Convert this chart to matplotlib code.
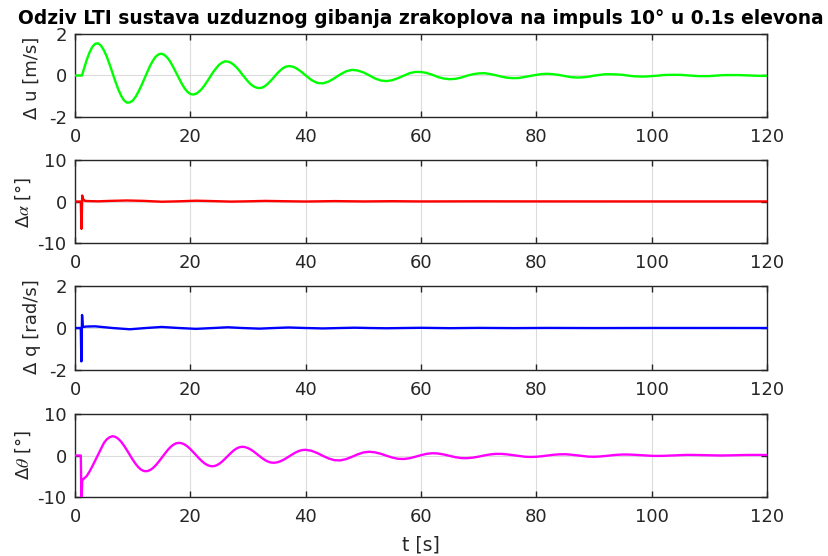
import numpy as np
import matplotlib
matplotlib.use("Agg")
import matplotlib.pyplot as plt

plt.rcParams["font.family"] = ["DejaVu Sans"]
plt.rcParams["mathtext.fontset"] = "stix"
plt.rcParams["axes.unicode_minus"] = False

# ---- response data (time in s) ----
# sample times: 0.5 s steps up to 40 s, 1 s steps afterwards
t_u = np.concatenate(([0.0, 1.0, 1.2], np.arange(1.5, 40.01, 0.5), np.arange(41, 121)))
# forward speed perturbation [m/s]
du = [0.0, 0.0, 0.0,
      0.28, 0.73, 1.10, 1.38, 1.53, 1.55, 1.44, 1.22, 0.91, 0.53,          # 1.5-6
      0.12, -0.29, -0.67, -0.98, -1.20, -1.31, -1.30, -1.21, -1.03, -0.78,  # 6.5-11
      -0.49, -0.17, 0.16, 0.46, 0.71, 0.91, 1.02, 1.05, 0.99, 0.86,         # 11.5-16
      0.67, 0.42, 0.15, -0.13, -0.39, -0.62, -0.79, -0.89, -0.92, -0.88,    # 16.5-21
      -0.78, -0.64, -0.46, -0.25, -0.03, 0.18, 0.36, 0.52, 0.62, 0.68,      # 21.5-26
      0.67, 0.62, 0.52, 0.39, 0.23, 0.05, -0.12, -0.29, -0.43, -0.53,       # 26.5-31
      -0.59, -0.61, -0.58, -0.50, -0.38, -0.24, -0.08, 0.08, 0.22, 0.34,    # 31.5-36
      0.42, 0.45, 0.44, 0.40, 0.32, 0.23, 0.12, 0.00,                       # 36.5-40
      -0.22, -0.36, -0.38, -0.29, -0.13, 0.05, 0.20, 0.27, 0.24,            # 41-49
      0.15, 0.01, -0.14, -0.24, -0.27, -0.23, -0.13, -0.01, 0.11, 0.17,     # 50-59
      0.17, 0.12, 0.03, -0.08, -0.15, -0.18, -0.16, -0.10, -0.01, 0.06,     # 60-69
      0.10, 0.11, 0.07, 0.01, -0.06, -0.11, -0.13, -0.12, -0.07, -0.02,     # 70-79
      0.03, 0.07, 0.08, 0.06, 0.02, -0.03, -0.08, -0.10, -0.09, -0.06,      # 80-89
      -0.01, 0.03, 0.06, 0.06, 0.05, 0.03, -0.01, -0.04, -0.05, -0.05,      # 90-99
      -0.03, -0.01, 0.02, 0.03, 0.03, 0.03, 0.01, -0.01, -0.03, -0.03,      # 100-109
      -0.03, -0.01, 0.01, 0.02, 0.02, 0.02, 0.01, 0.00, -0.01, -0.02,       # 110-119
      -0.02]                                                               # 120

# angle of attack perturbation [deg]
t_alpha = [0.0, 1.0, 1.12, 1.25, 1.4, 1.7, 2.5, 4, 6, 9, 12, 15, 18, 21, 24,
           27, 30, 33, 36, 40, 45, 50, 55, 60, 70, 80, 100, 120]
dalpha = [0.0, 0.0, -6.6, 1.45, 0.6, 0.15, 0.1, 0.05, 0.15, 0.25, 0.15, -0.05,
          0.05, 0.2, 0.1, -0.02, 0.05, 0.15, 0.08, 0.0, 0.1, 0.02, 0.08, 0.02,
          0.05, 0.03, 0.02, 0.02]

# pitch rate perturbation [rad/s]
t_q = [0.0, 1.0, 1.1, 1.22, 1.35, 2, 3.5, 6.5, 9.5, 12.3, 15, 18, 21, 24, 26.5,
       29, 32, 34.5, 37, 40, 43, 46, 48.5, 51, 54, 57, 60, 65, 70, 76, 82, 90,
       100, 120]
dq = [0.0, 0.0, -1.59, 0.62, 0.05, 0.07, 0.08, 0.0, -0.06, 0.0, 0.05, 0.0,
      -0.04, 0.0, 0.035, 0.0, -0.03, 0.0, 0.025, 0.0, -0.02, 0.0, 0.015, 0.0,
      -0.012, 0.0, 0.01, -0.008, 0.006, -0.005, 0.004, -0.003, 0.002, 0.0]

# pitch angle perturbation [deg]
t_theta = np.concatenate(([0.0, 1.0, 1.12, 1.25], np.arange(1.5, 40.01, 0.5), np.arange(41, 121)))
dtheta = [0.0, 0.0, -11.0, -6.0,
          -5.6, -5.0, -3.9, -2.6, -1.2, 0.2, 1.6, 3.0, 3.9, 4.4,            # 1.5-6
          4.65, 4.49, 4.03, 3.31, 2.37, 1.28, 0.13, -0.99, -2.01, -2.85,    # 6.5-11
          -3.45, -3.76, -3.77, -3.52, -3.03, -2.35, -1.52, -0.61, 0.32, 1.20,  # 11.5-16
          1.96, 2.55, 2.92, 3.05, 2.95, 2.65, 2.17, 1.55, 0.83, 0.08,       # 16.5-21
          -0.68, -1.35, -1.93, -2.33, -2.56, -2.59, -2.39, -2.01, -1.47, -0.81,  # 21.5-26
          -0.11, 0.58, 1.20, 1.68, 1.99, 2.10, 2.02, 1.78, 1.41, 0.94,      # 26.5-31
          0.40, -0.16, -0.69, -1.15, -1.49, -1.70, -1.75, -1.66, -1.45, -1.14,  # 31.5-36
          -0.76, -0.32, 0.12, 0.54, 0.90, 1.17, 1.33, 1.37,                 # 36.5-40
          1.14, 0.60, -0.09, -0.73, -1.13, -1.18, -0.87, -0.33, 0.27,       # 41-49
          0.73, 0.90, 0.77, 0.42, -0.05, -0.49, -0.79, -0.84, -0.66, -0.31,  # 50-59
          0.09, 0.41, 0.55, 0.47, 0.23, -0.10, -0.42, -0.62, -0.64, -0.51,   # 60-69
          -0.27, 0.02, 0.26, 0.39, 0.38, 0.26, 0.07, -0.14, -0.29, -0.35,    # 70-79
          -0.30, -0.17, 0.01, 0.18, 0.28, 0.30, 0.20, 0.04, -0.14, -0.27,    # 80-89
          -0.30, -0.24, -0.11, 0.04, 0.17, 0.24, 0.23, 0.17, 0.08, -0.02,    # 90-99
          -0.08, -0.10, -0.08, -0.02, 0.05, 0.11, 0.14, 0.14, 0.11, 0.07,    # 100-109
          0.03, 0.01, 0.00, 0.02, 0.05, 0.09, 0.12, 0.14, 0.14, 0.13,        # 110-119
          0.12]                                                             # 120

x_ticks = [0, 20, 40, 60, 80, 100, 120]
title = "Odziv LTI sustava uzduznog gibanja zrakoplova na impuls 10° u 0.1s elevona"

panels = [
    # (time, values, colour, ylim, yticks, ylabel, axes rect, label x, label y)
    (t_u, du, (0, 1, 0), (-2, 2), [-2, 0, 2], "Δ u [m/s]",
     [0.0905, 0.7896, 0.8347, 0.1493], 32, 78),
    (t_alpha, dalpha, (1, 0, 0), (-10, 10), [-10, 0, 10], "Δ$\\alpha$ [°]",
     [0.0905, 0.5629, 0.8347, 0.1493], 23.5, 202),
    (t_q, dq, (0, 0, 1), (-2, 2), [-2, 0, 2], "Δ q [rad/s]",
     [0.0905, 0.3345, 0.8347, 0.1511], 32, 327),
    (t_theta, dtheta, (1, 0, 1), (-10, 10), [-10, 0, 10], "Δ$\\theta$ [°]",
     [0.0905, 0.1061, 0.8347, 0.1493], 23.5, 455),
]

W, H = 829, 556
fig = plt.figure(figsize=(W / 100, H / 100), dpi=100)
dark = "#262626"

for t, y, col, ylim, yt, ylab, rect, lx, ly in panels:
    ax = fig.add_axes(rect)
    ax.plot(t, y, color=col, lw=1.7, zorder=3)
    ax.set_xlim(0, 120)
    ax.set_ylim(*ylim)
    ax.set_xticks(x_ticks)
    ax.set_yticks(yt)
    ax.grid(True, color="#dcdcdc", lw=0.8, zorder=0)
    ax.set_axisbelow(True)
    ax.tick_params(direction="in", top=True, right=True, length=4.5,
                   width=1.0, color=dark, labelcolor=dark, labelsize=13)
    ax.tick_params(axis="x", pad=8)
    ax.tick_params(axis="y", pad=6)
    for s in ax.spines.values():
        s.set_color(dark)
        s.set_linewidth(1.0)
    fig.text(lx / W, 1 - ly / H, ylab, rotation=90, ha="center", va="center",
             fontsize=13, color=dark)

fig.text(0.5079, 1 - 24.5 / H, title, ha="center", va="baseline",
         fontsize=13.45, fontweight="bold", color="black")
fig.text(421 / W, 1 - 545 / H, "t [s]", ha="center", va="center",
         fontsize=13.5, color=dark)

fig.savefig("out.png", dpi=100)
